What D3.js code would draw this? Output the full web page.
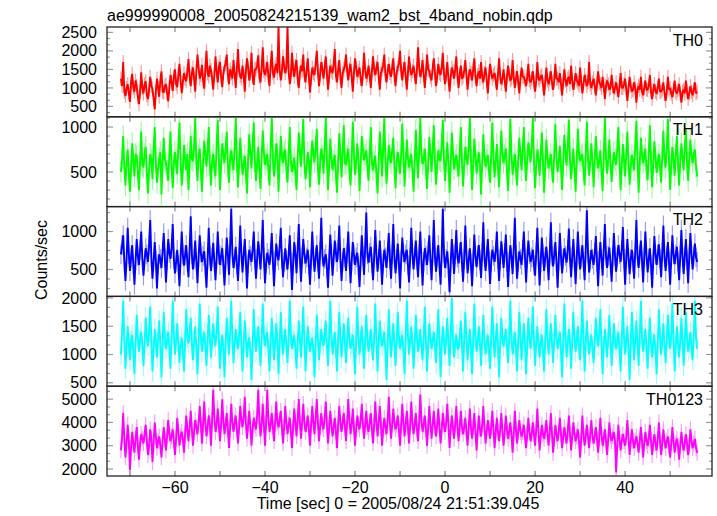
<!DOCTYPE html>
<html><head><meta charset="utf-8">
<script src="https://cdn.jsdelivr.net/npm/d3@7"></script>
<style>body{margin:0;background:#fff}svg{display:block;font-family:"Liberation Sans",Arial,Helvetica,sans-serif}</style>
</head><body><svg id="c" width="717" height="516"></svg>
<script>
const title = "ae999990008_20050824215139_wam2_bst_4band_nobin.qdp";
const xLabel = "Time [sec] 0 = 2005/08/24 21:51:39.045";
const yLabel = "Counts/sec";
const tStart = -72, tStep = 0.25;
const panelNames = ["TH0","TH1","TH2","TH3","TH0123"];
const colors = ["#ff0000","#00ff00","#0000ff","#00ffff","#ff00ff"];
const errs = [190, 120, 130, 180, 340];
const xTickLabels = [-60,-40,-20,0,20,40];
const yTicks = [[500,1000,1500,2000,2500],[500,1000],[500,1000],[500,1000,1500,2000],[2000,3000,4000,5000]];
const yMinorStep = [500/3, 100, 125, 500/3, 1000/3];
const yDomains = [[220,2645],[115,1114],[146,1328],[440,2027],[1700,5557]];

const th0 = [1250,1050,1700,900,780,1000,1100,850,620,1150,1380,1000,900,1200,1050,760,560,900,1420,1000,
850,1100,1180,800,700,950,1300,1050,980,700,420,900,1250,1000,760,1200,1450,900,880,1050,
1100,850,640,1000,1350,1150,920,1300,1500,1100,1020,1350,1650,1200,860,1150,1400,1250,1180,1450,
1780,1300,1050,1400,1550,1250,900,1450,1900,1550,1250,1350,1620,1200,980,1500,2000,1400,1300,1600,
1480,1250,950,1350,1850,1450,1150,1550,1700,1300,1020,1400,1560,1650,1900,1350,1100,1500,1400,1250,
1750,1400,1000,1500,2050,1450,1320,1250,1600,1350,900,1450,1800,1550,1200,1400,1950,1300,1080,1500,
1500,1600,1880,1300,1150,1550,2100,1450,1350,1500,1700,1300,1050,1600,2000,1400,1280,1550,1650,1400,
2650,1500,1200,1450,1850,1600,1400,1550,2650,1450,1100,1350,1950,1500,1300,1600,1750,1250,1000,1400,
1600,1450,1900,1350,1150,1500,1800,1300,880,1250,1550,1400,1350,1650,2000,1450,1050,1350,1700,1500,
1250,1550,1850,1400,950,1300,1600,1450,1400,1650,2050,1350,1150,1500,1750,1300,1000,1400,1500,1600,
1900,1450,1200,1500,1650,1300,900,1400,1800,1550,1300,1450,1550,1250,1050,1400,1950,1500,1250,1350,
1600,1350,1000,1450,1850,1500,1350,1550,1700,1300,950,1400,1500,1600,1900,1350,1150,1450,1650,1400,
1300,1550,1800,1350,1050,1400,1550,1650,2000,1450,1200,1500,1700,1300,950,1400,1850,1500,1350,1450,
1600,1350,1100,1500,2100,1550,1300,1450,1750,1350,1000,1400,1900,1500,1450,1300,1200,1550,1800,1400,
1050,1300,1650,1400,1350,1550,1950,1400,1100,1350,1700,1250,900,1300,1550,1450,1250,1500,1850,1350,
1000,1350,1600,1250,1300,1450,1750,1350,950,1300,1500,1400,1200,1500,1800,1300,1050,1350,1450,1250,
1700,1300,1150,1400,1550,1200,850,1300,1650,1400,1250,1350,1400,1200,950,1350,1800,1300,1100,1250,
1500,1200,900,1300,1600,1350,1200,1250,1750,1300,1000,1250,1450,1150,850,1250,1550,1300,1300,1200,
1050,1300,1650,1200,1150,1250,1450,1150,900,1200,1700,1250,1200,1300,1350,1100,800,1150,1550,1200,
1100,1250,1450,1150,950,1200,1650,1250,1250,1150,1400,1100,800,1150,1500,1200,1050,1250,1300,1100,
1600,1200,950,1150,1400,1200,1150,1050,1550,1150,850,1100,1350,1200,1050,1150,1700,1100,1000,1150,
1250,1050,800,1100,1450,1150,1100,1000,1300,1050,700,1050,1200,1100,950,1000,1350,1050,850,1000,
1150,950,750,1050,1400,1000,1000,1100,1250,950,650,1000,1300,1050,900,950,1150,1000,600,950,
1050,950,1300,900,800,1000,1200,950,950,1050,1350,900,700,950,1100,900,850,1000,1250,900,
900,950,1150,850,650,900,1300,950,1000,850,750,950,1200,900,850,950,1100,850,600,900,
950,850,1200,900,700,850,1050,900,800,950,1150,850,900];

const th1 = [500,650,900,550,350,600,750,480,280,560,820,620,450,700,680,500,300,620,950,580,
550,700,780,480,260,520,700,640,420,760,1000,600,380,540,650,720,250,590,880,640,
600,520,400,700,950,560,320,610,720,580,480,780,1050,620,350,520,800,650,520,700,
300,580,900,640,620,780,1100,600,400,690,760,520,280,600,850,700,560,740,1000,580,
350,620,700,540,450,800,1080,640,300,580,820,700,600,760,950,560,380,650,740,610,
520,760,1100,620,330,590,880,660,470,580,680,500,260,640,920,700,540,800,1050,620,
400,600,780,540,310,650,960,720,580,640,700,520,350,780,1100,650,450,600,820,700,
280,610,900,680,600,720,750,530,380,700,1000,620,500,580,660,490,300,640,940,720,
560,800,1090,600,420,560,720,610,330,640,850,700,610,780,980,560,360,600,760,680,
480,760,1100,640,300,570,870,660,520,620,690,480,270,610,930,700,440,720,1020,600,
580,680,760,520,350,640,1060,720,470,600,820,650,290,580,900,760,630,690,740,560,
400,680,1000,600,520,620,680,470,260,600,950,720,450,760,1100,640,370,590,800,660,
600,740,880,560,320,620,720,600,480,700,1040,680,340,610,860,650,550,640,700,520,
280,620,970,660,430,720,1100,700,590,640,760,540,310,600,890,700,500,760,1020,620,
360,580,740,640,620,800,1080,650,400,620,830,600,270,580,940,720,530,630,690,560,
450,720,1000,610,340,580,780,660,580,780,1100,640,300,590,870,680,480,620,720,580,
250,600,920,680,560,640,690,520,380,700,1050,660,440,620,810,560,330,640,960,700,
600,690,760,520,290,620,1090,700,470,600,700,530,350,640,880,680,520,760,1000,620,
400,640,830,700,610,780,1100,620,320,580,750,640,460,700,940,600,270,560,860,660,
540,620,700,520,380,700,1030,660,500,620,790,560,300,600,910,720,570,780,1080,640,
420,600,760,540,280,620,980,700,620,680,700,520,350,700,1060,640,460,620,820,600,
330,640,900,660,540,620,740,500,290,680,1100,660,480,640,860,600,390,580,720,640,
580,760,1000,620,300,570,810,640,450,700,950,600,360,560,690,620,520,800,1070,640,
270,600,880,700,600,680,760,520,410,700,1020,620,330,600,840,660,490,620,700,560,
380,680,960,640,550,760,1090,620,300,580,780,640,460,700,900,600,350,620,820,660,
520,760,980,600,400,640,860,680,600,700,750,560,450];

const th2 = [700,820,950,600,350,640,1050,700,480,660,820,560,300,620,900,680,560,760,1000,640,
420,620,780,700,600,820,1150,660,380,600,860,620,250,560,700,640,520,740,980,660,
330,620,900,720,640,780,1100,640,450,600,760,560,280,660,1000,700,550,690,820,600,
400,760,1200,700,500,640,880,600,320,660,950,720,600,680,740,520,260,640,1050,680,
480,660,850,600,360,640,1000,700,560,680,780,560,290,620,920,700,430,800,1300,720,
520,640,800,560,350,660,1080,720,460,680,900,620,250,580,760,680,600,760,1000,640,
380,640,870,700,500,760,1150,660,320,580,720,640,560,720,980,620,280,600,840,680,
620,800,1050,640,400,600,780,620,500,700,950,600,230,580,860,700,450,760,1100,660,
340,660,900,700,580,660,760,560,300,640,1000,680,470,660,820,600,380,740,1180,700,
540,640,700,520,260,620,960,700,420,640,880,720,600,760,1080,640,350,600,780,660,
480,720,1000,640,320,600,860,700,560,660,720,540,270,620,950,680,430,780,1250,700,
590,720,800,580,360,660,1020,700,470,640,880,620,300,580,760,660,520,740,980,640,
380,700,1100,660,450,640,840,580,250,620,920,720,600,700,760,560,330,660,1050,700,
500,680,880,620,400,700,1000,640,290,600,780,680,560,740,950,620,360,720,1150,680,
470,660,820,560,300,700,1300,720,520,640,740,520,200,580,900,700,440,700,1020,660,
580,720,860,600,340,640,1080,700,450,620,780,580,280,620,960,680,530,680,820,620,
390,720,1120,660,480,680,900,620,310,600,760,680,600,740,1000,640,350,640,870,700,
520,720,960,600,270,600,820,660,440,760,1180,680,380,600,740,640,560,760,1000,660,
330,640,880,700,600,660,760,560,420,720,1050,660,290,600,920,700,480,660,800,620,
360,700,1120,680,540,700,860,600,260,620,980,680,450,640,780,680,590,760,1040,660,
400,660,900,620,310,640,1000,700,500,660,820,600,360,760,1280,720,460,620,760,640,
560,720,940,600,280,620,860,640,420,760,1100,680,520,680,790,580,340,660,980,680,
470,660,820,700,600,760,1060,640,300,640,900,660,440,640,760,600,380,740,1150,680,
520,700,880,620,330,660,1000,680,460,640,780,560,260,620,940,700,560,700,830,640,
400,720,1080,660,480,680,860,600,300,640,950,700,570,700,800,600,360,680,1020,660,
440,680,900,620,320,660,980,700,500,680,840,660,600];

const th3 = [1000,1400,1950,1250,750,1150,1500,1200,900,1250,1350,1050,650,1200,1700,1300,1050,1250,1400,1150,
800,1200,1650,1300,1150,1400,1850,1250,700,1100,1450,1200,950,1300,1600,1150,600,1200,1750,1300,
1100,1250,1400,1100,750,1300,1950,1350,1000,1250,1550,1200,850,1150,1300,1050,700,1250,1800,1300,
1200,1400,1650,1200,900,1250,1500,1100,650,1200,1900,1350,1050,1250,1400,1150,800,1250,1700,1300,
950,1250,1550,1300,1150,1400,1850,1250,750,1150,1350,1100,600,1200,1650,1300,1000,1400,1950,1300,
850,1200,1450,1250,1100,1350,1750,1200,700,1150,1600,1300,950,1200,1300,1050,550,1150,1800,1300,
1050,1300,1500,1150,800,1250,1900,1350,1150,1300,1400,1100,700,1200,1650,1300,900,1200,1550,1250,
650,1150,1750,1300,1000,1250,1450,1150,850,1300,1950,1350,1100,1250,1350,1100,750,1200,1600,1250,
950,1350,1850,1250,700,1150,1500,1250,1050,1200,1300,1050,600,1200,1700,1300,900,1200,1450,1250,
1150,1350,1600,1150,800,1300,1950,1350,1000,1200,1400,1100,700,1250,1750,1300,950,1250,1550,1200,
850,1250,1650,1300,1100,1200,1350,1050,650,1250,1850,1300,1000,1250,1500,1150,750,1250,1700,1300,
1050,1250,1450,1150,900,1300,1900,1250,700,1200,1600,1300,1150,1250,1400,1050,550,1200,1800,1300,
950,1250,1550,1200,800,1250,1750,1300,1100,1250,1350,1050,650,1300,1950,1350,1000,1250,1500,1200,
750,1200,1700,1300,1050,1250,1450,1150,900,1300,1850,1250,700,1150,1550,1300,1100,1250,1400,1150,
850,1300,1800,1250,600,1150,1500,1250,1000,1300,1650,1200,800,1350,2000,1300,950,1200,1350,1100,
1100,1300,1600,1200,700,1250,1750,1300,900,1200,1450,1100,650,1250,1900,1300,1050,1250,1500,1200,
800,1250,1700,1250,1000,1200,1350,1050,750,1300,1850,1300,950,1250,1550,1150,600,1200,1650,1300,
1150,1300,1450,1150,850,1300,1950,1300,1000,1200,1400,1100,700,1250,1750,1300,900,1250,1550,1200,
650,1150,1650,1300,1100,1350,1850,1250,800,1200,1500,1200,950,1200,1350,1050,700,1250,1800,1300,
1000,1250,1550,1200,850,1250,1700,1300,1100,1250,1400,1050,600,1250,1900,1300,950,1200,1450,1200,
750,1250,1750,1300,1050,1250,1500,1150,900,1350,1950,1250,700,1200,1600,1250,1000,1200,1350,1100,
850,1250,1650,1300,1150,1350,1800,1200,650,1150,1450,1200,950,1300,1700,1250,800,1200,1550,1250,
1100,1250,1400,1100,700,1250,1850,1300,1000,1250,1500,1100,550,1200,1750,1300,900,1250,1600,1200,
800,1350,1950,1300,1050,1250,1450,1100,750,1250,1650,1200,950,1200,1350,1050,650,1200,1800,1300,
1000,1250,1550,1150,850,1250,1700,1300,1100,1350,1900,1250,700,1150,1500,1200,950,1250,1650,1250,
800,1250,1750,1300,1050,1200,1400,1100,900,1350,1950,1300,1100];

const th0123 = [2800,3400,4400,3300,2500,3100,3900,3200,1950,2900,3600,3100,2700,3300,3800,3000,2400,3100,3500,3300,
3100,3500,3900,3200,2600,3000,3700,3300,2300,3100,4000,3400,2900,3200,3400,3000,2500,3200,3800,3300,
2800,3400,4100,3500,3200,3400,3700,3200,2600,3300,4200,3600,3000,3400,3600,3300,2700,3500,4300,3700,
3200,3800,4500,3700,3000,3600,4100,3800,3500,4000,4700,3900,3100,3900,4900,4000,3400,3800,4300,3900,
3000,4100,5400,4200,3600,3900,4600,3900,3200,3900,5000,4100,3500,3900,4400,3700,2900,3800,4800,4000,
3600,4000,4300,3700,3100,3800,4700,4100,3800,4200,5100,4000,3300,3900,4500,3800,3000,3700,4200,3900,
3700,4300,5400,4100,3400,3900,4800,3900,3000,4000,5400,4200,3600,3900,4400,3800,3200,4000,4900,4000,
3800,4100,4500,3800,3100,3800,4700,4000,3500,3900,4200,3600,2900,3800,4600,4000,3400,4100,5000,4000,
3300,4000,4800,4000,3600,3900,4300,3700,3000,3900,4700,4000,3500,4200,5000,4000,3200,3800,4400,3900,
3700,4200,4900,3900,3100,3800,4500,3900,3400,3800,4200,3600,2900,3900,4700,4000,3600,4000,4400,3800,
3200,4000,5000,4100,3500,3900,4600,3800,3000,3700,4300,3900,3700,4100,4800,3900,3300,3900,4500,3800,
3600,4000,4400,3700,3100,3900,4900,4000,3400,4000,4700,3900,3000,3700,4200,3800,3500,4100,5100,4000,
3300,3900,4600,4000,3700,3900,4300,3700,3000,3900,4800,4000,3400,3900,4500,3800,3100,3900,4900,4000,
3500,3900,4400,3700,3200,4000,5200,4100,3600,3900,4300,3700,3000,3800,4700,3900,3300,3900,4500,3800,
3400,3900,4600,3800,3100,3700,4400,3900,3600,4000,4800,3900,2900,3700,4300,3800,3300,3900,4700,3800,
3200,3800,4500,3800,3500,3800,4200,3600,3000,3800,4600,3800,3300,3800,4400,3600,2800,3600,4300,3700,
3400,3900,4700,3800,3100,3600,4100,3700,3300,3800,4500,3700,2900,3600,4200,3600,3200,3700,4400,3600,
3000,3600,4300,3700,3300,3600,4000,3500,2700,3500,4500,3700,3100,3600,4100,3600,3400,3600,3900,3400,
2900,3500,4200,3600,3200,3500,4000,3500,3000,3700,4600,3600,2800,3400,3900,3500,3300,3600,4100,3500,
3000,3600,4400,3500,2700,3300,3900,3500,3200,3600,4200,3500,2900,3400,3800,3400,3100,3600,4300,3500,
2800,3400,4000,3500,3200,3400,3700,3200,2500,3300,4300,3500,3000,3400,3900,3400,2900,3500,4100,3400,
3100,3400,3800,3300,2700,3300,4200,3500,3000,3300,3700,3200,2600,3300,4000,3400,3200,3400,3600,3200,
1850,3000,3900,3300,2800,3200,3500,3200,3000,3400,4100,3300,2600,3200,3700,3200,2900,3200,3400,3100,
2700,3200,3800,3200,2500,3100,3600,3200,3000,3300,3900,3200,2600,3100,3500,3100,2800,3300,4000,3200,
2600,3100,3700,3200,2900,3200,3400,3000,2500,3100,3800,3200,2700,3100,3300,3000,2400,3000,3600,3100,
2800,3100,3500,3100,2600,3000,3700,3200,2900,3100,3300,2900,2700];

const series = [th0, th1, th2, th3, th0123];

const svg = d3.select("#c");
const L = 107, R = 712, T = 27, B = 476;
const ph = (B - T) / 5;
const x = d3.scaleLinear().domain([-75.1, 59.3]).range([L, R]);

svg.append("text").attr("x", L).attr("y", 20.5).attr("font-size", 16).text(title);

series.forEach((vals, p) => {
  const top = T + p * ph, bot = top + ph;
  const y = d3.scaleLinear().domain(yDomains[p]).range([bot, top]);
  const g = svg.append("g");
  const cid = "clip" + p;
  svg.append("clipPath").attr("id", cid).append("rect").attr("x", L).attr("y", top).attr("width", R - L).attr("height", ph);
  const pts = vals.map((v, i) => ({t: tStart + i * tStep, v}));
  const dg = g.append("g").attr("clip-path", `url(#${cid})`);
  dg.selectAll("line.err").data(pts).join("line")
    .attr("x1", d => x(d.t)).attr("x2", d => x(d.t))
    .attr("y1", d => y(d.v - errs[p])).attr("y2", d => y(d.v + errs[p]))
    .attr("stroke", colors[p]).attr("stroke-opacity", 0.4).attr("stroke-width", 1.2);
  dg.append("path").datum(pts)
    .attr("d", d3.line().x(d => x(d.t)).y(d => y(d.v)))
    .attr("fill", "none").attr("stroke", colors[p]).attr("stroke-width", 1.9)
    .attr("stroke-linejoin", "bevel");

  const [d0, d1] = yDomains[p];
  const minor = [];
  const ms = yMinorStep[p];
  for (let k = Math.ceil(d0 / ms); k * ms <= d1; k++) minor.push(k * ms);
  const tg = g.append("g").attr("stroke", "#999").attr("stroke-width", 1.2);
  minor.forEach(v => {
    const isMaj = yTicks[p].some(m => Math.abs(m - v) < 1);
    const len = isMaj ? 6 : 3;
    tg.append("line").attr("x1", L).attr("x2", L + len).attr("y1", y(v)).attr("y2", y(v));
    tg.append("line").attr("x1", R).attr("x2", R - len).attr("y1", y(v)).attr("y2", y(v));
  });
  d3.range(-70, 60, 10).forEach(t => {
    tg.append("line").attr("x1", x(t)).attr("x2", x(t)).attr("y1", top).attr("y2", top + 5).attr("stroke", "#888");
    tg.append("line").attr("x1", x(t)).attr("x2", x(t)).attr("y1", bot).attr("y2", bot - 5).attr("stroke", "#888");
  });
  yTicks[p].forEach(v => {
    svg.append("text").attr("x", 97).attr("y", y(v)).attr("dy", "0.35em")
      .attr("text-anchor", "end").attr("font-size", 16).text(v);
  });
  svg.append("text").attr("x", 703).attr("y", top + 18.5).attr("text-anchor", "end")
    .attr("font-size", 16).text(panelNames[p]);
  svg.append("rect").attr("x", L).attr("y", top).attr("width", R - L).attr("height", ph)
    .attr("fill", "none").attr("stroke", "#222").attr("stroke-width", 1.3);
});

xTickLabels.forEach(t => {
  svg.append("text").attr("x", x(t)).attr("y", 493).attr("text-anchor", "middle")
    .attr("font-size", 16).text(t < 0 ? "\u2212" + Math.abs(t) : t);
});
svg.append("text").attr("x", 398).attr("y", 509).attr("text-anchor", "middle").attr("font-size", 16).text(xLabel);
svg.append("text").attr("transform", "translate(47,260) rotate(-90)").attr("text-anchor", "middle").attr("font-size", 16).text(yLabel);
</script></body></html>
